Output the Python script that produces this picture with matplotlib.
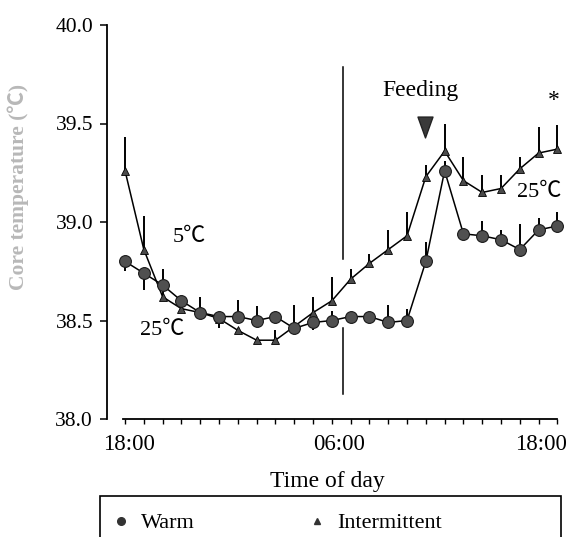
import matplotlib
matplotlib.use("Agg")
import matplotlib.pyplot as plt
from matplotlib.patches import Rectangle
from matplotlib.lines import Line2D
from matplotlib.path import Path
import numpy as np

plt.rcParams['font.family'] = ['Liberation Serif', 'DejaVu Serif']

# ---- data (hourly, 18:00 -> 17:00 next day) ----
hours = list(range(24))
warm_mean = [38.80, 38.74, 38.68, 38.60, 38.54, 38.52, 38.52, 38.50, 38.52, 38.46,
             38.49, 38.50, 38.52, 38.52, 38.49, 38.50, 38.80, 39.26, 38.94, 38.93,
             38.91, 38.86, 38.96, 38.98]
warm_err_up = [0.00, 0.00, 0.00, 0.00, 0.08, 0.00, 0.085, 0.075, 0.00, 0.00,
               0.00, 0.05, 0.00, 0.00, 0.09, 0.06, 0.10, 0.05, 0.00, 0.075,
               0.05, 0.13, 0.06, 0.07]
warm_err_down = [0.05, 0.085, 0.00, 0.05, 0.00, 0.06, 0.00, 0.00, 0.00, 0.00,
                 0.04, 0.00, 0.00, 0.00, 0.00, 0.00, 0.00, 0.00, 0.00, 0.00,
                 0.00, 0.00, 0.00, 0.00]
inter_mean = [39.26, 38.86, 38.62, 38.56, 38.54, 38.51, 38.45, 38.40, 38.40, 38.47,
              38.54, 38.60, 38.71, 38.79, 38.86, 38.93, 39.23, 39.36, 39.21, 39.15,
              39.17, 39.27, 39.35, 39.37]
inter_err_up = [0.17, 0.17, 0.14, 0.00, 0.00, 0.00, 0.00, 0.00, 0.05, 0.11,
                0.08, 0.12, 0.05, 0.05, 0.10, 0.12, 0.06, 0.14, 0.12, 0.09,
                0.07, 0.06, 0.13, 0.12]
inter_err_down = [0.0] * 24

xtick_pos = [0.2, 11.4, 22.1]
xtick_labels = ["18:00", "06:00", "18:00"]
ytick_vals = [38.0, 38.5, 39.0, 39.5, 40.0]

# annotation positions (data coords)
light_change_x = 11.6
feeding_x = 15.98

CJK = ['Liberation Serif', 'Noto Sans CJK JP']

fig = plt.figure(figsize=(5.69, 5.37), dpi=100)
ax = fig.add_axes([107/569, 1-419/537, (564-107)/569, (419-25)/537])

x = np.array(hours)
ax.errorbar(x, warm_mean, yerr=[warm_err_down, warm_err_up], fmt='none',
            ecolor='black', elinewidth=1.4, capsize=0, zorder=2)
ax.errorbar(x, inter_mean, yerr=[inter_err_down, inter_err_up], fmt='none',
            ecolor='black', elinewidth=1.4, capsize=0, zorder=2)
ax.plot(x, inter_mean, color='black', lw=1.1, marker='^', ms=6,
        mfc='#4a4a4a', mec='black', mew=0.6, zorder=3)
ax.plot(x, warm_mean, color='black', lw=1.1, marker='o', ms=8.5,
        mfc='#505050', mec='#1a1a1a', mew=0.8, zorder=4)

# vertical light-change line (broken around data)
ax.plot([light_change_x, light_change_x], [39.787, 38.81], color='black', lw=1.1, zorder=1)
ax.plot([light_change_x, light_change_x], [38.46, 38.125], color='black', lw=1.1, zorder=1)

ax.text(3.4, 38.92, "5℃", fontsize=16, ha='center', va='center', family=CJK)
ax.text(2.0, 38.45, "25℃", fontsize=16, ha='center', va='center', family=CJK)
ax.text(22.05, 39.15, "25℃", fontsize=16, ha='center', va='center', family=CJK)
ax.text(15.74, 39.665, "Feeding", fontsize=17, ha='center', va='center')
tri_down = Path([(-0.36, 0.5), (0.36, 0.5), (0.0, -0.5), (-0.36, 0.5)],
                [Path.MOVETO, Path.LINETO, Path.LINETO, Path.CLOSEPOLY])
ax.plot([feeding_x], [39.48], marker=tri_down, ms=15, color='#3a3a3a',
        mec='#222222', zorder=5)
ax.text(22.8, 39.615, "*", fontsize=17, ha='center', va='center')

ax.set_xlim(-0.96, 23.35)
ax.set_ylim(38.0, 40.0)
for s in ['top', 'right']:
    ax.spines[s].set_visible(False)
ax.spines['left'].set_bounds(38.0, 40.0)
ax.spines['bottom'].set_bounds(-0.1, 23)
ax.spines['left'].set_linewidth(1.3)
ax.spines['bottom'].set_linewidth(1.3)

ax.set_yticks(ytick_vals)
ax.set_yticklabels([f"{v:.1f}" for v in ytick_vals])
ax.tick_params(axis='y', direction='out', length=5, width=1.1, labelsize=15.5, pad=5)

ax.set_xticks(xtick_pos)
ax.set_xticklabels(xtick_labels)
ax.set_xticks(hours, minor=True)
ax.tick_params(axis='x', which='major', length=0, labelsize=16.5, pad=11)
ax.tick_params(axis='x', which='minor', direction='out', length=3.5, width=1.0)

ax.set_xlabel("Time of day", fontsize=17)
ax.xaxis.set_label_coords((327-107)/(564-107), (419-492)/(419-25), transform=ax.transAxes)
ax.xaxis.label.set_va('bottom')
ax.set_ylabel("Core temperature (℃)", fontsize=15.5, color='#b8b8b8', fontweight='bold',
              family=CJK)
ax.yaxis.set_label_coords((18-107)/(564-107), (419-187)/(419-25), transform=ax.transAxes)
ax.yaxis.label.set_va('center')

# legend
h1 = Line2D([], [], ls='none', marker='o', ms=5.5, mfc='#333333', mec='#333333')
h2 = Line2D([], [], ls='none', marker='^', ms=4.5, mfc='#333333', mec='#333333')
fig.legend([h1, h2], ["Warm", "Intermittent"], loc='center left',
           bbox_to_anchor=(110/569, 1-523/537), ncol=2, frameon=False,
           fontsize=16, handlelength=1.0, handletextpad=0.4, columnspacing=5.0,
           borderaxespad=0, borderpad=0)
fig.add_artist(Rectangle((100/569, -0.05), (561-100)/569, 0.05 + 1-496/537,
                         transform=fig.transFigure, fill=False, lw=1.2,
                         ec='black', clip_on=False))

fig.savefig("out.png", dpi=100)
